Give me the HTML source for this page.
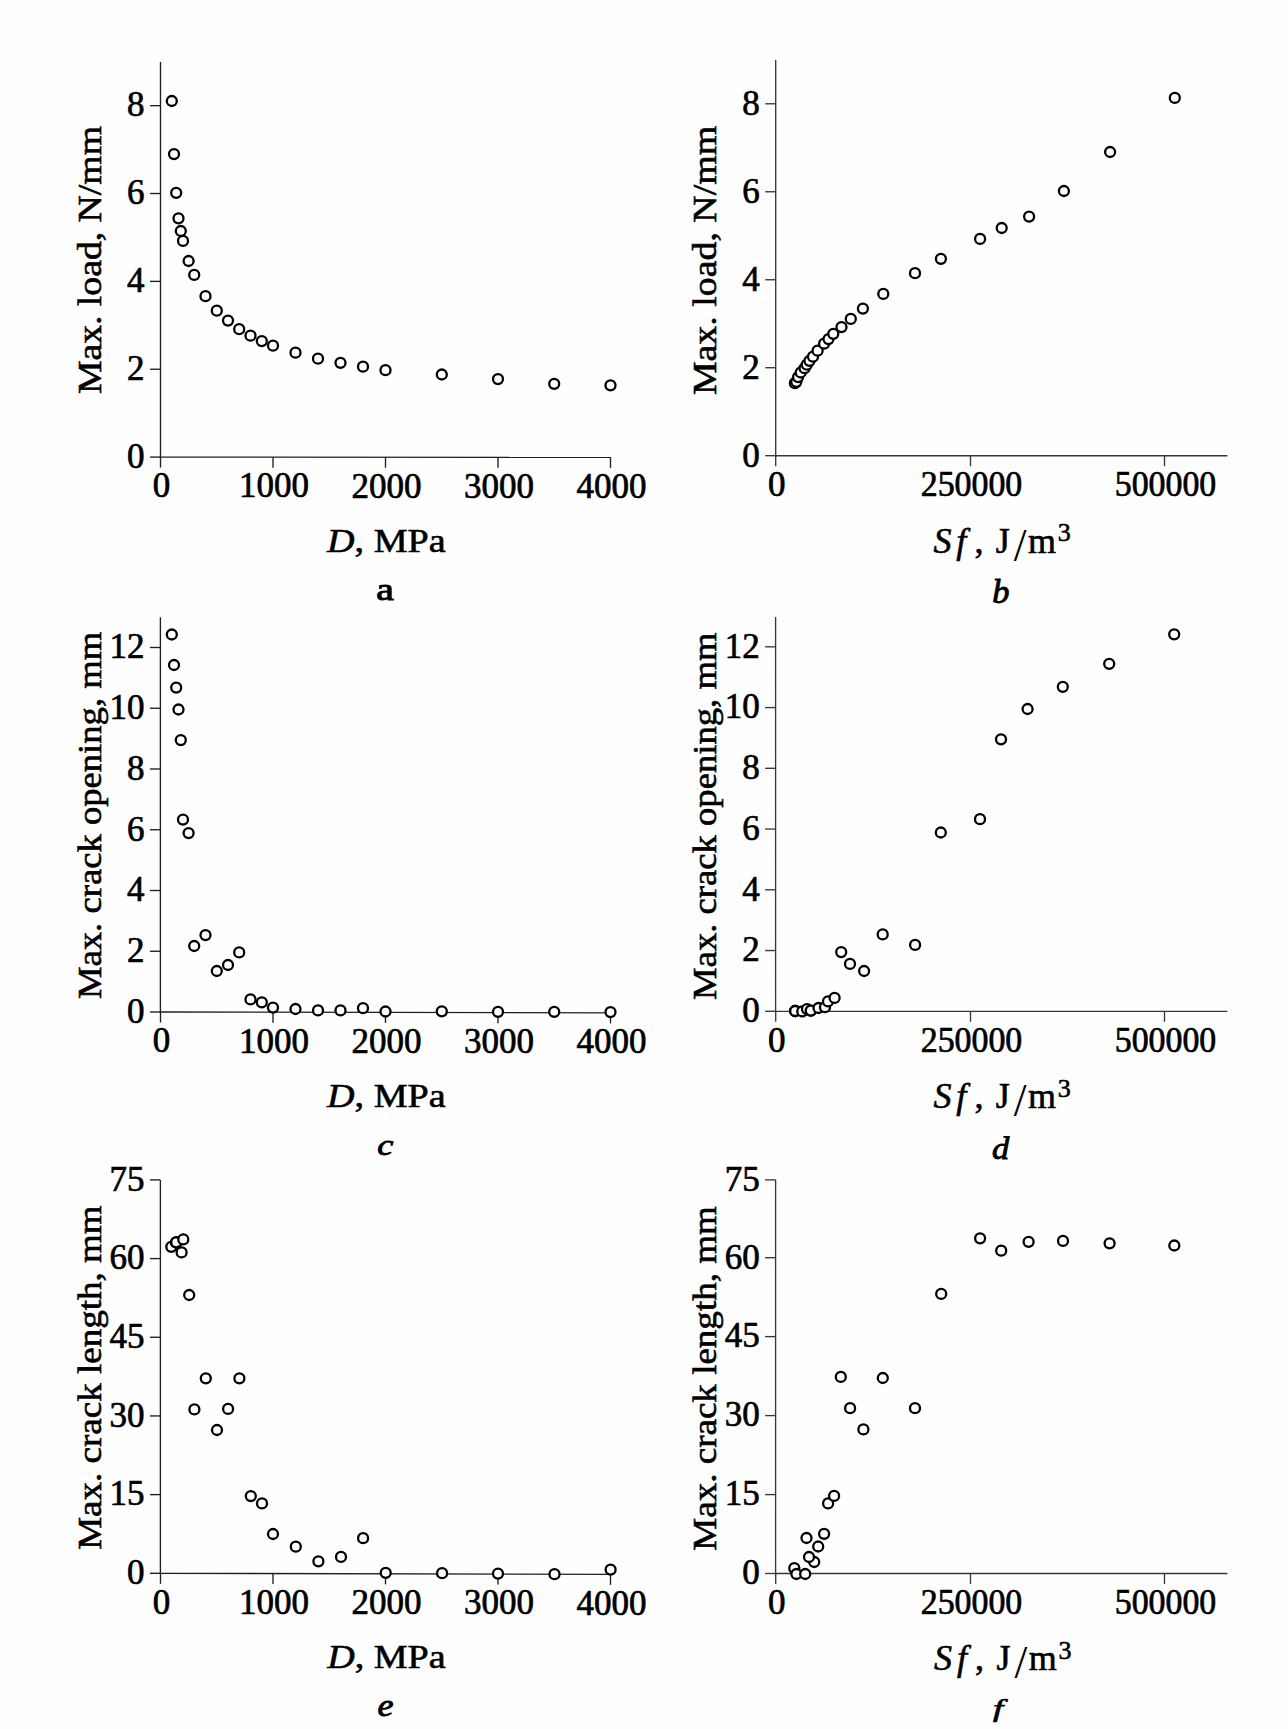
<!DOCTYPE html>
<html><head><meta charset="utf-8"><title>Figure</title>
<style>html,body{margin:0;padding:0;background:#fefefe;} svg{display:block;}</style></head>
<body><svg width="1288" height="1729" viewBox="0 0 1288 1729">
<rect width="1288" height="1729" fill="#fefefe"/>
<g stroke="#1f1f1f" stroke-width="1.35" fill="none"><line x1="160.5" y1="62.0" x2="160.5" y2="457.70" /><line x1="159.9" y1="457.1" x2="611.0" y2="457.40" /><line x1="150.0" y1="457.10" x2="160.5" y2="457.10" /><line x1="150.0" y1="369.24" x2="160.5" y2="369.24" /><line x1="150.0" y1="281.38" x2="160.5" y2="281.38" /><line x1="150.0" y1="193.52" x2="160.5" y2="193.52" /><line x1="150.0" y1="105.66" x2="160.5" y2="105.66" /><line x1="160.50" y1="457.10" x2="160.50" y2="467.60" /><line x1="273.00" y1="457.17" x2="273.00" y2="467.67" /><line x1="385.50" y1="457.25" x2="385.50" y2="467.75" /><line x1="498.00" y1="457.32" x2="498.00" y2="467.82" /><line x1="610.50" y1="457.40" x2="610.50" y2="467.90" /></g>
<g font-family='"Liberation Serif", "DejaVu Serif", serif' font-size="35" fill="#000" stroke="#000" stroke-width="0.7"><text x="144.6" y="467.90" text-anchor="end">0</text><text x="144.6" y="380.04" text-anchor="end">2</text><text x="144.6" y="292.18" text-anchor="end">4</text><text x="144.6" y="204.32" text-anchor="end">6</text><text x="144.6" y="116.46" text-anchor="end">8</text><text x="161.5" y="497.40" text-anchor="middle">0</text><text x="274.0" y="497.47" text-anchor="middle">1000</text><text x="386.5" y="497.55" text-anchor="middle">2000</text><text x="499.0" y="497.62" text-anchor="middle">3000</text><text x="611.5" y="497.70" text-anchor="middle">4000</text></g>
<g stroke="#000" stroke-width="2.3" fill="#fefefe"><circle cx="610.5" cy="385.3" r="5.0"/><circle cx="554.2" cy="383.8" r="5.0"/><circle cx="498.0" cy="379.1" r="5.0"/><circle cx="441.8" cy="374.5" r="5.0"/><circle cx="385.5" cy="370.2" r="5.0"/><circle cx="363.0" cy="366.7" r="5.0"/><circle cx="340.5" cy="362.8" r="5.0"/><circle cx="318.0" cy="358.7" r="5.0"/><circle cx="295.5" cy="352.7" r="5.0"/><circle cx="273.0" cy="345.7" r="5.0"/><circle cx="261.8" cy="341.1" r="5.0"/><circle cx="250.5" cy="335.7" r="5.0"/><circle cx="239.2" cy="329.2" r="5.0"/><circle cx="228.0" cy="320.6" r="5.0"/><circle cx="216.8" cy="310.7" r="5.0"/><circle cx="205.5" cy="296.2" r="5.0"/><circle cx="194.2" cy="274.9" r="5.0"/><circle cx="188.6" cy="261.0" r="5.0"/><circle cx="183.0" cy="240.9" r="5.0"/><circle cx="180.8" cy="231.0" r="5.0"/><circle cx="178.5" cy="218.3" r="5.0"/><circle cx="176.2" cy="192.8" r="5.0"/><circle cx="174.0" cy="154.1" r="5.0"/><circle cx="171.8" cy="101.0" r="5.0"/></g>
<g stroke="#383838" stroke-width="1.35" fill="none"><line x1="775.7" y1="60.1" x2="775.7" y2="456.30" /><line x1="775.1" y1="455.7" x2="1227.4" y2="455.70" /><line x1="765.2" y1="455.70" x2="775.7" y2="455.70" /><line x1="765.2" y1="367.72" x2="775.7" y2="367.72" /><line x1="765.2" y1="279.74" x2="775.7" y2="279.74" /><line x1="765.2" y1="191.76" x2="775.7" y2="191.76" /><line x1="765.2" y1="103.78" x2="775.7" y2="103.78" /><line x1="775.70" y1="455.70" x2="775.70" y2="466.20" /><line x1="970.50" y1="455.70" x2="970.50" y2="466.20" /><line x1="1164.50" y1="455.70" x2="1164.50" y2="466.20" /></g>
<g font-family='"Liberation Serif", "DejaVu Serif", serif' font-size="35" fill="#000" stroke="#000" stroke-width="0.7"><text x="759.8" y="466.50" text-anchor="end">0</text><text x="759.8" y="378.52" text-anchor="end">2</text><text x="759.8" y="290.54" text-anchor="end">4</text><text x="759.8" y="202.56" text-anchor="end">6</text><text x="759.8" y="114.58" text-anchor="end">8</text><text x="776.7" y="496.00" text-anchor="middle">0</text><text x="971.5" y="496.00" text-anchor="middle" textLength="101.5" lengthAdjust="spacingAndGlyphs">250000</text><text x="1165.5" y="496.00" text-anchor="middle" textLength="101.5" lengthAdjust="spacingAndGlyphs">500000</text></g>
<g stroke="#000" stroke-width="2.3" fill="#fefefe"><circle cx="794.9" cy="383.2" r="5.0"/><circle cx="796.3" cy="381.8" r="5.0"/><circle cx="798.1" cy="377.1" r="5.0"/><circle cx="800.7" cy="372.5" r="5.0"/><circle cx="804.6" cy="368.2" r="5.0"/><circle cx="806.8" cy="364.7" r="5.0"/><circle cx="809.5" cy="360.8" r="5.0"/><circle cx="813.0" cy="356.7" r="5.0"/><circle cx="817.6" cy="350.7" r="5.0"/><circle cx="824.1" cy="343.7" r="5.0"/><circle cx="828.5" cy="339.1" r="5.0"/><circle cx="833.3" cy="333.8" r="5.0"/><circle cx="841.5" cy="327.1" r="5.0"/><circle cx="850.8" cy="318.9" r="5.0"/><circle cx="862.9" cy="308.6" r="5.0"/><circle cx="883.3" cy="293.9" r="5.0"/><circle cx="915.0" cy="273.2" r="5.0"/><circle cx="940.9" cy="258.8" r="5.0"/><circle cx="980.1" cy="238.9" r="5.0"/><circle cx="1001.7" cy="228.0" r="5.0"/><circle cx="1029.1" cy="216.6" r="5.0"/><circle cx="1063.9" cy="191.0" r="5.0"/><circle cx="1110.1" cy="152.0" r="5.0"/><circle cx="1174.8" cy="97.9" r="5.0"/></g>
<g stroke="#1f1f1f" stroke-width="1.35" fill="none"><line x1="160.4" y1="617.3" x2="160.4" y2="1012.60" /><line x1="159.8" y1="1012.0" x2="611.0" y2="1012.90" /><line x1="149.9" y1="1012.00" x2="160.4" y2="1012.00" /><line x1="149.9" y1="951.25" x2="160.4" y2="951.25" /><line x1="149.9" y1="890.50" x2="160.4" y2="890.50" /><line x1="149.9" y1="829.75" x2="160.4" y2="829.75" /><line x1="149.9" y1="769.00" x2="160.4" y2="769.00" /><line x1="149.9" y1="708.25" x2="160.4" y2="708.25" /><line x1="149.9" y1="647.50" x2="160.4" y2="647.50" /><line x1="160.50" y1="1012.00" x2="160.50" y2="1022.50" /><line x1="273.00" y1="1012.22" x2="273.00" y2="1022.72" /><line x1="385.50" y1="1012.45" x2="385.50" y2="1022.95" /><line x1="498.00" y1="1012.67" x2="498.00" y2="1023.17" /><line x1="610.50" y1="1012.90" x2="610.50" y2="1023.40" /></g>
<g font-family='"Liberation Serif", "DejaVu Serif", serif' font-size="35" fill="#000" stroke="#000" stroke-width="0.7"><text x="144.5" y="1022.80" text-anchor="end">0</text><text x="144.5" y="962.05" text-anchor="end">2</text><text x="144.5" y="901.30" text-anchor="end">4</text><text x="144.5" y="840.55" text-anchor="end">6</text><text x="144.5" y="779.80" text-anchor="end">8</text><text x="144.5" y="719.05" text-anchor="end">10</text><text x="144.5" y="658.30" text-anchor="end">12</text><text x="161.5" y="1052.30" text-anchor="middle">0</text><text x="274.0" y="1052.52" text-anchor="middle">1000</text><text x="386.5" y="1052.75" text-anchor="middle">2000</text><text x="499.0" y="1052.97" text-anchor="middle">3000</text><text x="611.5" y="1053.20" text-anchor="middle">4000</text></g>
<g stroke="#000" stroke-width="2.3" fill="#fefefe"><circle cx="610.5" cy="1012.1" r="5.0"/><circle cx="554.2" cy="1011.8" r="5.0"/><circle cx="498.0" cy="1011.8" r="5.0"/><circle cx="441.8" cy="1011.3" r="5.0"/><circle cx="385.5" cy="1011.5" r="5.0"/><circle cx="363.0" cy="1008.2" r="5.0"/><circle cx="340.5" cy="1010.4" r="5.0"/><circle cx="318.0" cy="1010.4" r="5.0"/><circle cx="295.5" cy="1009.0" r="5.0"/><circle cx="273.0" cy="1007.6" r="5.0"/><circle cx="261.8" cy="1002.3" r="5.0"/><circle cx="250.5" cy="999.4" r="5.0"/><circle cx="239.2" cy="952.4" r="5.0"/><circle cx="228.0" cy="965.0" r="5.0"/><circle cx="216.8" cy="971.0" r="5.0"/><circle cx="205.5" cy="935.1" r="5.0"/><circle cx="194.2" cy="946.0" r="5.0"/><circle cx="188.6" cy="833.1" r="5.0"/><circle cx="183.0" cy="819.6" r="5.0"/><circle cx="180.8" cy="740.1" r="5.0"/><circle cx="178.5" cy="709.5" r="5.0"/><circle cx="176.2" cy="687.6" r="5.0"/><circle cx="174.0" cy="665.0" r="5.0"/><circle cx="171.8" cy="634.5" r="5.0"/></g>
<g stroke="#383838" stroke-width="1.35" fill="none"><line x1="775.6" y1="617.0" x2="775.6" y2="1011.90" /><line x1="775.0" y1="1011.3" x2="1227.4" y2="1011.30" /><line x1="765.1" y1="1011.30" x2="775.6" y2="1011.30" /><line x1="765.1" y1="950.55" x2="775.6" y2="950.55" /><line x1="765.1" y1="889.80" x2="775.6" y2="889.80" /><line x1="765.1" y1="829.05" x2="775.6" y2="829.05" /><line x1="765.1" y1="768.30" x2="775.6" y2="768.30" /><line x1="765.1" y1="707.55" x2="775.6" y2="707.55" /><line x1="765.1" y1="646.80" x2="775.6" y2="646.80" /><line x1="775.70" y1="1011.30" x2="775.70" y2="1021.80" /><line x1="970.50" y1="1011.30" x2="970.50" y2="1021.80" /><line x1="1164.50" y1="1011.30" x2="1164.50" y2="1021.80" /></g>
<g font-family='"Liberation Serif", "DejaVu Serif", serif' font-size="35" fill="#000" stroke="#000" stroke-width="0.7"><text x="759.7" y="1022.10" text-anchor="end">0</text><text x="759.7" y="961.35" text-anchor="end">2</text><text x="759.7" y="900.60" text-anchor="end">4</text><text x="759.7" y="839.85" text-anchor="end">6</text><text x="759.7" y="779.10" text-anchor="end">8</text><text x="759.7" y="718.35" text-anchor="end">10</text><text x="759.7" y="657.60" text-anchor="end">12</text><text x="776.7" y="1051.60" text-anchor="middle">0</text><text x="971.5" y="1051.60" text-anchor="middle" textLength="101.5" lengthAdjust="spacingAndGlyphs">250000</text><text x="1165.5" y="1051.60" text-anchor="middle" textLength="101.5" lengthAdjust="spacingAndGlyphs">500000</text></g>
<g stroke="#000" stroke-width="2.3" fill="#fefefe"><circle cx="795.2" cy="1011.0" r="5.0"/><circle cx="795.2" cy="1011.0" r="5.0"/><circle cx="795.2" cy="1011.0" r="5.0"/><circle cx="795.2" cy="1011.0" r="5.0"/><circle cx="802.3" cy="1011.4" r="5.0"/><circle cx="807.0" cy="1009.1" r="5.0"/><circle cx="810.8" cy="1010.6" r="5.0"/><circle cx="810.8" cy="1010.6" r="5.0"/><circle cx="818.5" cy="1008.0" r="5.0"/><circle cx="825.0" cy="1007.2" r="5.0"/><circle cx="828.0" cy="1001.4" r="5.0"/><circle cx="834.6" cy="997.9" r="5.0"/><circle cx="841.2" cy="952.1" r="5.0"/><circle cx="850.0" cy="963.9" r="5.0"/><circle cx="864.1" cy="971.0" r="5.0"/><circle cx="882.7" cy="934.4" r="5.0"/><circle cx="915.1" cy="944.9" r="5.0"/><circle cx="940.8" cy="832.5" r="5.0"/><circle cx="980.0" cy="819.2" r="5.0"/><circle cx="1001.0" cy="739.3" r="5.0"/><circle cx="1027.6" cy="709.0" r="5.0"/><circle cx="1062.8" cy="686.8" r="5.0"/><circle cx="1109.2" cy="663.8" r="5.0"/><circle cx="1174.2" cy="634.3" r="5.0"/></g>
<g stroke="#1f1f1f" stroke-width="1.35" fill="none"><line x1="160.4" y1="1179.9" x2="160.4" y2="1573.90" /><line x1="159.8" y1="1573.3" x2="611.0" y2="1574.40" /><line x1="149.9" y1="1573.30" x2="160.4" y2="1573.30" /><line x1="149.9" y1="1494.62" x2="160.4" y2="1494.62" /><line x1="149.9" y1="1415.94" x2="160.4" y2="1415.94" /><line x1="149.9" y1="1337.26" x2="160.4" y2="1337.26" /><line x1="149.9" y1="1258.58" x2="160.4" y2="1258.58" /><line x1="149.9" y1="1179.90" x2="160.4" y2="1179.90" /><line x1="160.50" y1="1573.30" x2="160.50" y2="1583.80" /><line x1="273.00" y1="1573.57" x2="273.00" y2="1584.07" /><line x1="385.50" y1="1573.85" x2="385.50" y2="1584.35" /><line x1="498.00" y1="1574.12" x2="498.00" y2="1584.62" /><line x1="610.50" y1="1574.40" x2="610.50" y2="1584.90" /></g>
<g font-family='"Liberation Serif", "DejaVu Serif", serif' font-size="35" fill="#000" stroke="#000" stroke-width="0.7"><text x="144.5" y="1584.10" text-anchor="end">0</text><text x="144.5" y="1505.42" text-anchor="end">15</text><text x="144.5" y="1426.74" text-anchor="end">30</text><text x="144.5" y="1348.06" text-anchor="end">45</text><text x="144.5" y="1269.38" text-anchor="end">60</text><text x="144.5" y="1190.70" text-anchor="end">75</text><text x="161.5" y="1613.60" text-anchor="middle">0</text><text x="274.0" y="1613.87" text-anchor="middle">1000</text><text x="386.5" y="1614.15" text-anchor="middle">2000</text><text x="499.0" y="1614.42" text-anchor="middle">3000</text><text x="611.5" y="1614.70" text-anchor="middle">4000</text></g>
<g stroke="#000" stroke-width="2.3" fill="#fefefe"><circle cx="171.3" cy="1246.8" r="5.0"/><circle cx="176.2" cy="1242.3" r="5.0"/><circle cx="176.2" cy="1242.3" r="5.0"/><circle cx="176.2" cy="1242.3" r="5.0"/><circle cx="181.6" cy="1252.4" r="5.0"/><circle cx="183.3" cy="1239.4" r="5.0"/><circle cx="189.2" cy="1295.0" r="5.0"/><circle cx="194.4" cy="1409.4" r="5.0"/><circle cx="205.8" cy="1378.3" r="5.0"/><circle cx="217.0" cy="1430.0" r="5.0"/><circle cx="228.1" cy="1408.9" r="5.0"/><circle cx="239.4" cy="1378.3" r="5.0"/><circle cx="250.8" cy="1496.1" r="5.0"/><circle cx="262.0" cy="1503.4" r="5.0"/><circle cx="273.0" cy="1534.0" r="5.0"/><circle cx="295.8" cy="1546.7" r="5.0"/><circle cx="318.4" cy="1561.3" r="5.0"/><circle cx="341.0" cy="1556.9" r="5.0"/><circle cx="363.1" cy="1538.2" r="5.0"/><circle cx="385.7" cy="1572.8" r="5.0"/><circle cx="442.1" cy="1573.2" r="5.0"/><circle cx="498.0" cy="1573.6" r="5.0"/><circle cx="554.5" cy="1574.2" r="5.0"/><circle cx="610.6" cy="1569.6" r="5.0"/></g>
<g stroke="#383838" stroke-width="1.35" fill="none"><line x1="775.6" y1="1179.7" x2="775.6" y2="1574.10" /><line x1="775.0" y1="1573.5" x2="1227.4" y2="1573.50" /><line x1="765.1" y1="1573.50" x2="775.6" y2="1573.50" /><line x1="765.1" y1="1494.60" x2="775.6" y2="1494.60" /><line x1="765.1" y1="1415.60" x2="775.6" y2="1415.60" /><line x1="765.1" y1="1336.60" x2="775.6" y2="1336.60" /><line x1="765.1" y1="1257.70" x2="775.6" y2="1257.70" /><line x1="765.1" y1="1179.90" x2="775.6" y2="1179.90" /><line x1="775.70" y1="1573.50" x2="775.70" y2="1584.00" /><line x1="970.50" y1="1573.50" x2="970.50" y2="1584.00" /><line x1="1164.50" y1="1573.50" x2="1164.50" y2="1584.00" /></g>
<g font-family='"Liberation Serif", "DejaVu Serif", serif' font-size="35" fill="#000" stroke="#000" stroke-width="0.7"><text x="759.7" y="1584.30" text-anchor="end">0</text><text x="759.7" y="1505.40" text-anchor="end">15</text><text x="759.7" y="1426.40" text-anchor="end">30</text><text x="759.7" y="1347.40" text-anchor="end">45</text><text x="759.7" y="1268.50" text-anchor="end">60</text><text x="759.7" y="1190.70" text-anchor="end">75</text><text x="776.7" y="1613.80" text-anchor="middle">0</text><text x="971.5" y="1613.80" text-anchor="middle" textLength="101.5" lengthAdjust="spacingAndGlyphs">250000</text><text x="1165.5" y="1613.80" text-anchor="middle" textLength="101.5" lengthAdjust="spacingAndGlyphs">500000</text></g>
<g stroke="#000" stroke-width="2.3" fill="#fefefe"><circle cx="794.3" cy="1568.2" r="5.0"/><circle cx="796.4" cy="1574.0" r="5.0"/><circle cx="805.2" cy="1574.0" r="5.0"/><circle cx="806.5" cy="1538.0" r="5.0"/><circle cx="814.2" cy="1562.0" r="5.0"/><circle cx="809.0" cy="1557.0" r="5.0"/><circle cx="818.2" cy="1546.5" r="5.0"/><circle cx="824.1" cy="1533.8" r="5.0"/><circle cx="828.1" cy="1503.4" r="5.0"/><circle cx="834.1" cy="1495.9" r="5.0"/><circle cx="840.8" cy="1376.9" r="5.0"/><circle cx="850.1" cy="1408.2" r="5.0"/><circle cx="863.4" cy="1429.4" r="5.0"/><circle cx="882.8" cy="1378.0" r="5.0"/><circle cx="915.0" cy="1408.2" r="5.0"/><circle cx="941.2" cy="1293.9" r="5.0"/><circle cx="980.1" cy="1238.3" r="5.0"/><circle cx="1001.2" cy="1250.7" r="5.0"/><circle cx="1028.6" cy="1241.8" r="5.0"/><circle cx="1063.0" cy="1240.9" r="5.0"/><circle cx="1109.6" cy="1243.3" r="5.0"/><circle cx="1174.3" cy="1245.5" r="5.0"/></g>
<g font-family='"Liberation Serif", "DejaVu Serif", serif' fill="#000" stroke="#000" stroke-width="0.6"><text transform="matrix(0 -1.0934 1 0 101.00 394.09)" font-size="34.5">Max. load, N/mm</text><text transform="matrix(0 -1.0975 1 0 716.10 395.10)" font-size="34.5">Max. load, N/mm</text><text transform="matrix(0 -1.0626 1 0 101.10 999.06)" font-size="34.5">Max. crack opening, mm</text><text transform="matrix(0 -1.0629 1 0 716.10 999.96)" font-size="34.5">Max. crack opening, mm</text><text transform="matrix(0 -1.0737 1 0 101.00 1549.87)" font-size="34.5">Max. crack length, mm</text><text transform="matrix(0 -1.0737 1 0 716.00 1550.67)" font-size="34.5">Max. crack length, mm</text><text transform="matrix(1.1037 0 0 1 327.10 551.80)" font-size="34.5"><tspan font-style="italic">D</tspan>, MPa</text><text transform="matrix(1.1037 0 0 1 327.10 1106.70)" font-size="34.5"><tspan font-style="italic">D</tspan>, MPa</text><text transform="matrix(1.1028 0 0 1 327.30 1668.30)" font-size="34.5"><tspan font-style="italic">D</tspan>, MPa</text><text y="552.8" font-size="36"><tspan x="933.40" font-style="italic">S</tspan><tspan x="956.30" font-style="italic">f</tspan><tspan x="974.50">,</tspan><tspan x="995.80">J</tspan><tspan x="1013.80" font-size="46" dy="8" stroke-width="0">/</tspan><tspan x="1028.10" dy="-8">m</tspan><tspan x="1057.80" font-size="26" dy="-11.5">3</tspan></text><text y="1108.3" font-size="36"><tspan x="933.40" font-style="italic">S</tspan><tspan x="956.30" font-style="italic">f</tspan><tspan x="974.50">,</tspan><tspan x="995.80">J</tspan><tspan x="1013.80" font-size="46" dy="8" stroke-width="0">/</tspan><tspan x="1028.10" dy="-8">m</tspan><tspan x="1057.80" font-size="26" dy="-11.5">3</tspan></text><text y="1670.4" font-size="36"><tspan x="934.00" font-style="italic">S</tspan><tspan x="956.90" font-style="italic">f</tspan><tspan x="975.10">,</tspan><tspan x="996.40">J</tspan><tspan x="1014.40" font-size="46" dy="8" stroke-width="0">/</tspan><tspan x="1028.70" dy="-8">m</tspan><tspan x="1058.40" font-size="26" dy="-11.5">3</tspan></text><text transform="matrix(1.1000 0 0 0.8579 376.20 600.34)" font-size="36" font-style="normal" font-weight="normal" stroke-width="1.1">a</text><text transform="matrix(0.9529 0 0 0.9148 992.25 602.89)" font-size="36" font-style="italic" font-weight="normal" stroke-width="1.0">b</text><text transform="matrix(1.0067 0 0 0.8368 377.19 1155.06)" font-size="36" font-style="italic" font-weight="normal" stroke-width="1.0">c</text><text transform="matrix(0.9579 0 0 0.8815 992.10 1158.82)" font-size="36" font-style="italic" font-weight="normal" stroke-width="1.0">d</text><text transform="matrix(1.0000 0 0 0.8684 377.50 1716.13)" font-size="36" font-style="italic" font-weight="normal" stroke-width="1.0">e</text><text transform="matrix(1.0333 0 0 0.6971 993.10 1716.63)" font-size="36" font-style="italic" font-weight="normal" stroke-width="1.0">f</text></g>
</svg></body></html>
